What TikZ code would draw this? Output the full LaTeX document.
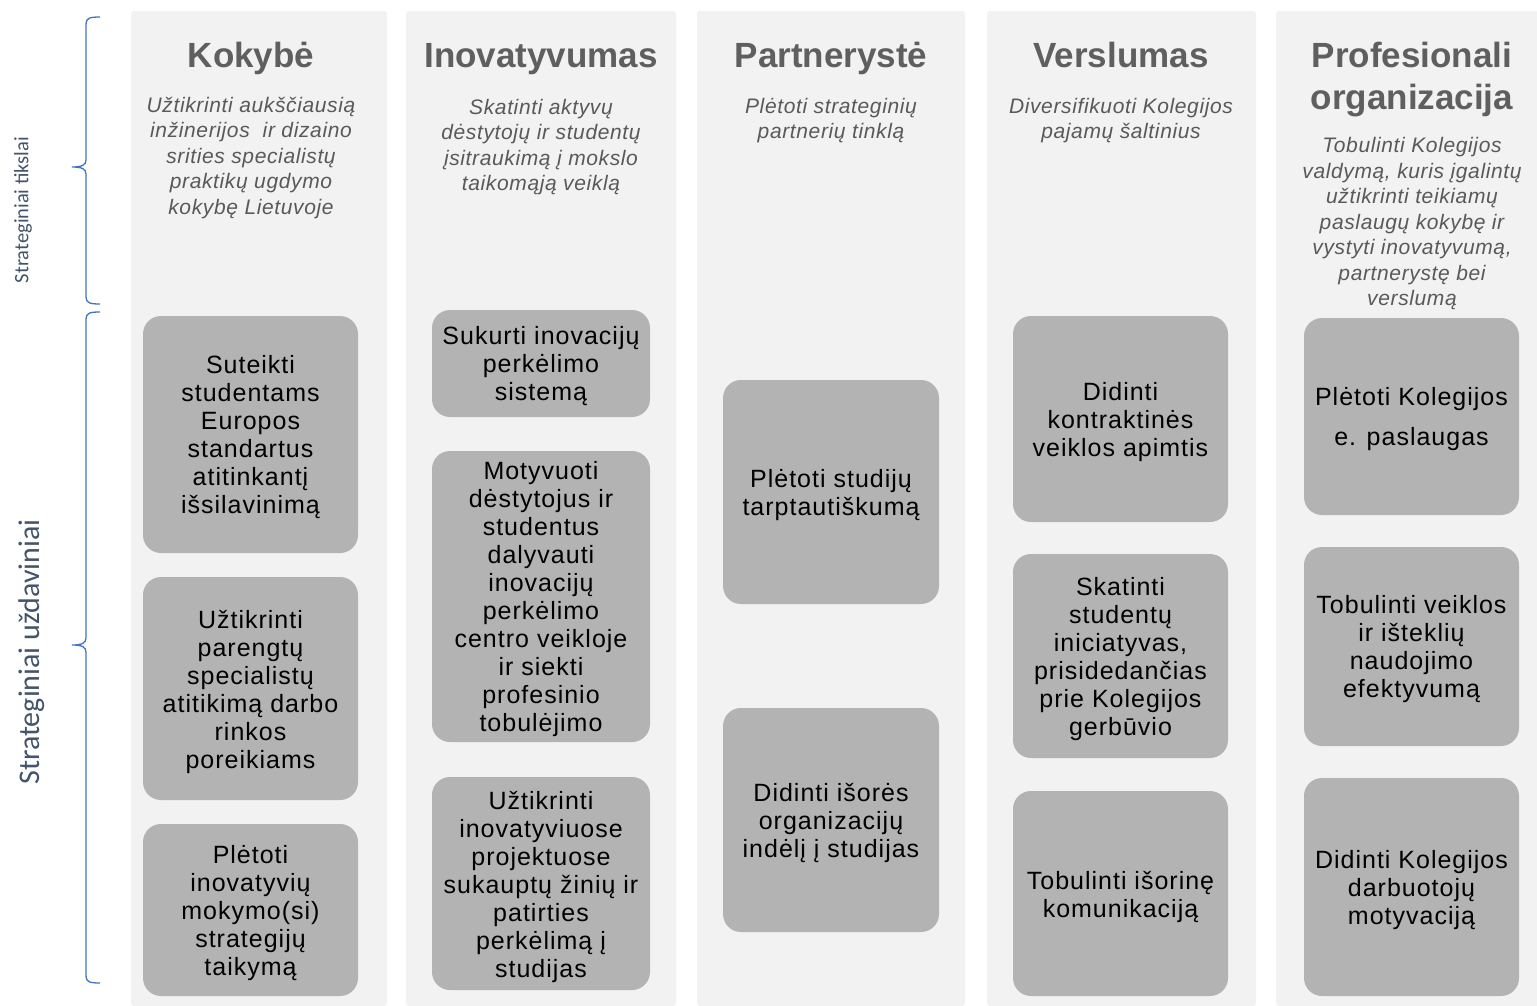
\documentclass[tikz,border=0pt]{standalone}
\usepackage{fontspec}
\setmainfont{Liberation Sans}
\newfontfamily\labfont{Carlito}
\definecolor{colbg}{HTML}{F2F2F2}
\definecolor{boxfill}{HTML}{B3B3B3}
\definecolor{titlec}{HTML}{5F5F5F}
\definecolor{subc}{HTML}{595959}
\definecolor{bracec}{HTML}{4472C4}
\definecolor{labc}{HTML}{44546A}
\begin{document}
\begin{tikzpicture}[x=1pt,y=-1pt,
 colbox/.style={fill=colbg, draw=none, rounded corners=3pt, inner sep=0pt},
 task/.style={fill=boxfill, draw=none, rounded corners=18pt, inner sep=0pt},
 tasktext/.style={align=center, inner sep=0pt,
   font=\fontsize{25}{28}\selectfont\addfontfeatures{LetterSpace=4}},
 title/.style={font=\fontsize{35}{42}\selectfont\bfseries, text=titlec, align=center, inner sep=0pt},
 goal/.style={font=\fontsize{21}{25.5}\selectfont\itshape\addfontfeatures{LetterSpace=3}, text=subc, align=center, inner sep=0pt},
 brace/.style={draw=bracec, line width=1.3pt},
 sidelab/.style={text=labc, rotate=90, inner sep=0pt}]
\useasboundingbox (0,0) rectangle (1537,1006);
\fill[white] (0,0) rectangle (1537,1006);
% columns
\node[colbox, minimum width=256, minimum height=995] (c1) at (259,508.5) {};
\node[colbox, minimum width=270, minimum height=995] (c2) at (541,508.5) {};
\node[colbox, minimum width=268, minimum height=995] (c3) at (831,508.5) {};
\node[colbox, minimum width=269, minimum height=995] (c4) at (1121.5,508.5) {};
\node[colbox, minimum width=270, minimum height=995] (c5) at (1411,508.5) {};
% braces
\draw[brace] (100,17) .. controls (90,17) and (86,18) .. (86,24) -- (86,160)
  .. controls (86,165) and (82,167) .. (72,167) .. controls (82,167) and (86,169) .. (86,174)
  -- (86,297) .. controls (86,303) and (90,304) .. (100,304);
\draw[brace] (100,312) .. controls (90,312) and (86,313) .. (86,319) -- (86,638)
  .. controls (86,643) and (82,645) .. (72,645) .. controls (82,645) and (86,647) .. (86,652)
  -- (86,976) .. controls (86,982) and (90,983) .. (100,983);
\node[sidelab, font=\labfont\fontsize{20.5}{24}\selectfont] (l1) at (23,210) {Strateginiai tikslai};
\node[sidelab, font=\labfont\fontsize{30}{36}\selectfont] (l2) at (32,652) {Strateginiai uždaviniai};
% titles
\node[title, anchor=base] (t1) at (251,68) {Kokybė};
\node[title, anchor=base] (t2) at (541,68) {Inovatyvumas};
\node[title, anchor=base] (t3) at (831,68) {Partnerystė};
\node[title, anchor=base] (t4) at (1121,68) {Verslumas};
\node[title] (t5) at (1412,79.5) {Profesionali\\organizacija};
% goals
\node[goal] (g1) at (251,158) {Užtikrinti aukščiausią\\inžinerijos~ ir dizaino\\srities specialistų\\praktikų ugdymo\\kokybę Lietuvoje};
\node[goal] (g2) at (541,147) {Skatinti aktyvų\\dėstytojų ir studentų\\įsitraukimą į mokslo\\taikomąją veiklą};
\node[goal] (g3) at (831,120.5) {Plėtoti strateginių\\partnerių tinklą};
\node[goal] (g4) at (1121,120.5) {Diversifikuoti Kolegijos\\pajamų šaltinius};
\node[goal] (g5) at (1412,224) {Tobulinti Kolegijos\\valdymą, kuris įgalintų\\užtikrinti teikiamų\\paslaugų kokybę ir\\vystyti inovatyvumą,\\partnerystę bei\\verslumą};
% tasks column 1
\node[task, minimum width=215, minimum height=237] (k1) at (250.5,434.5) {};
\node[tasktext] (k1t) at ([yshift=-3pt]k1.center) {Suteikti\\studentams\\Europos\\standartus\\atitinkantį\\išsilavinimą};
\node[task, minimum width=215, minimum height=223] (k2) at (250.5,688.5) {};
\node[tasktext] (k2t) at ([yshift=-3pt]k2.center) {Užtikrinti\\parengtų\\specialistų\\atitikimą darbo\\rinkos\\poreikiams};
\node[task, minimum width=215, minimum height=172] (k3) at (250.5,910) {};
\node[tasktext] (k3t) at ([yshift=-3pt]k3.center) {Plėtoti\\inovatyvių\\mokymo(si)\\strategijų\\taikymą};
% column 2
\node[task, minimum width=218, minimum height=107] (i1) at (541,363.5) {};
\node[tasktext] (i1t) at ([yshift=-3pt]i1.center) {Sukurti inovacijų\\perkėlimo\\sistemą};
\node[task, minimum width=218, minimum height=291] (i2) at (541,596.5) {};
\node[tasktext] (i2t) at ([yshift=-3pt]i2.center) {Motyvuoti\\dėstytojus ir\\studentus\\dalyvauti\\inovacijų\\perkėlimo\\centro veikloje\\ir siekti\\profesinio\\tobulėjimo};
\node[task, minimum width=218, minimum height=213] (i3) at (541,883.5) {};
\node[tasktext] (i3t) at ([yshift=-3pt]i3.center) {Užtikrinti\\inovatyviuose\\projektuose\\sukauptų žinių ir\\patirties\\perkėlimą į\\studijas};
% column 3
\node[task, minimum width=216, minimum height=224] (p1) at (831,492) {};
\node[tasktext] (p1t) at ([yshift=-3pt]p1.center) {Plėtoti studijų\\tarptautiškumą};
\node[task, minimum width=216, minimum height=224] (p2) at (831,820) {};
\node[tasktext] (p2t) at ([yshift=-3pt]p2.center) {Didinti išorės\\organizacijų\\indėlį į studijas};
% column 4
\node[task, minimum width=215, minimum height=206] (v1) at (1120.5,419) {};
\node[tasktext] (v1t) at ([yshift=-3pt]v1.center) {Didinti\\kontraktinės\\veiklos apimtis};
\node[task, minimum width=215, minimum height=204] (v2) at (1120.5,656) {};
\node[tasktext] (v2t) at ([yshift=-3pt]v2.center) {Skatinti\\studentų\\iniciatyvas,\\prisidedančias\\prie Kolegijos\\gerbūvio};
\node[task, minimum width=215, minimum height=205] (v3) at (1120.5,893.5) {};
\node[tasktext] (v3t) at ([yshift=-3pt]v3.center) {Tobulinti išorinę\\komunikaciją};
% column 5
\node[task, minimum width=215, minimum height=197] (o1) at (1411.5,416.5) {};
\node[tasktext] (o1t) at ([yshift=-3pt]o1.center) {Plėtoti Kolegijos\\[12pt]e. paslaugas};
\node[task, minimum width=215, minimum height=199] (o2) at (1411.5,646.5) {};
\node[tasktext] (o2t) at ([yshift=-3pt]o2.center) {Tobulinti veiklos\\ir išteklių\\naudojimo\\efektyvumą};
\node[task, minimum width=215, minimum height=218] (o3) at (1411.5,887) {};
\node[tasktext] (o3t) at ([yshift=-3pt]o3.center) {Didinti Kolegijos\\darbuotojų\\motyvaciją};
\end{tikzpicture}
\end{document}
